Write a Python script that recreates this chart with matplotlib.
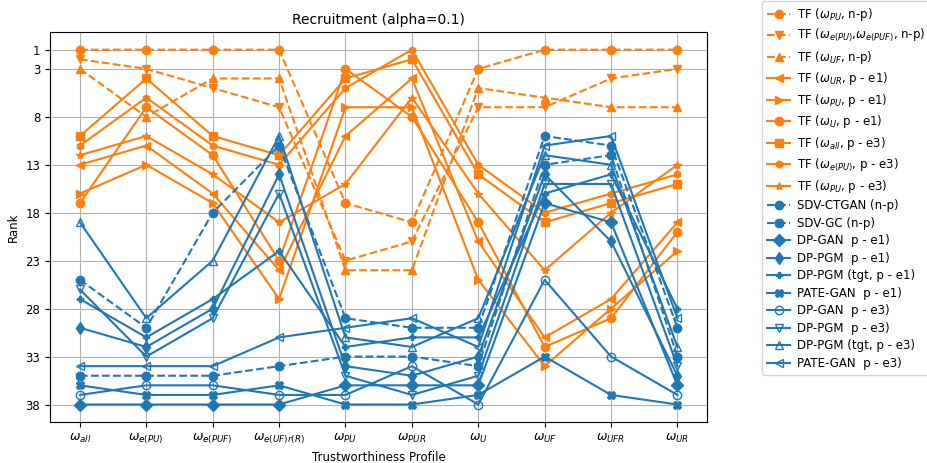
import matplotlib
matplotlib.use('Agg')
import matplotlib.pyplot as plt
import numpy as np

plt.rcParams['font.size'] = 8.5

# trustworthiness profiles on the x axis
profiles = [r'$\omega_{all}$', r'$\omega_{e(PU)}$', r'$\omega_{e(PUF)}$', r'$\omega_{e(UF)r(R)}$',
            r'$\omega_{PU}$', r'$\omega_{PUR}$', r'$\omega_{U}$', r'$\omega_{UF}$',
            r'$\omega_{UFR}$', r'$\omega_{UR}$']

# TF ranks
tf_pu_np = [1, 1, 1, 1, 17, 19, 3, 1, 1, 1]
tf_epu_np = [2, 3, 5, 7, 23, 21, 7, 7, 4, 3]
tf_uf_np = [3, 8, 4, 4, 24, 24, 5, 6, 7, 7]
tf_ur_e1 = [13, 11, 16, 24, 10, 4, 21, 31, 27, 19]
tf_pu_e1 = [16, 13, 17, 27, 7, 7, 25, 34, 28, 22]
tf_u_e1 = [17, 7, 12, 23, 3, 8, 19, 32, 29, 20]
tf_all_e3 = [10, 4, 10, 12, 4, 2, 14, 19, 17, 15]
tf_epu_e3 = [11, 6, 11, 13, 5, 1, 13, 18, 16, 14]
tf_pu_e3 = [12, 10, 14, 19, 15, 6, 16, 24, 18, 13]

# baseline generator ranks
sdv_ctgan = [25, 30, 18, 11, 29, 30, 30, 10, 11, 30]
sdv_gc = [35, 35, 35, 34, 33, 33, 34, 13, 12, 33]
dpgan_e1 = [38, 38, 38, 38, 36, 36, 36, 17, 19, 36]
dppgm_e1 = [30, 32, 28, 14, 34, 35, 33, 14, 21, 35]
dppgm_tgt_e1 = [27, 31, 27, 22, 32, 31, 31, 16, 14, 28]
pategan_e1 = [36, 37, 37, 36, 38, 38, 37, 33, 37, 38]
dpgan_e3 = [37, 36, 36, 37, 37, 34, 38, 25, 33, 37]
dppgm_e3 = [26, 33, 29, 16, 35, 37, 35, 15, 15, 34]
dppgm_tgt_e3 = [19, 29, 23, 10, 31, 32, 29, 12, 13, 32]
pategan_e3 = [34, 34, 34, 31, 30, 29, 32, 11, 10, 29]

orange = '#ff7f0e'
blue = '#1f77b4'
x = np.arange(len(profiles))

fig = plt.figure(figsize=(9.27, 4.63), dpi=100)
ax = fig.add_axes([0.054, 0.088, 0.709, 0.843])

# (values, label, color, linestyle, marker, hollow, markersize)
series = [
    (tf_pu_np, r'TF ($\omega_{PU}$, n-p)', orange, '--', 'o', False, 6),
    (tf_epu_np, r'TF ($\omega_{e(PU)}$,$\omega_{e(PUF)}$, n-p)', orange, '--', 'v', False, 6),
    (tf_uf_np, r'TF ($\omega_{UF}$, n-p)', orange, '--', '^', False, 6),
    (tf_ur_e1, r'TF ($\omega_{UR}$, p - e1)', orange, '-', '<', False, 6),
    (tf_pu_e1, r'TF ($\omega_{PU}$, p - e1)', orange, '-', '>', False, 6),
    (tf_u_e1, r'TF ($\omega_{U}$, p - e1)', orange, '-', 'o', False, 6),
    (tf_all_e3, r'TF ($\omega_{all}$, p - e3)', orange, '-', 's', False, 6),
    (tf_epu_e3, r'TF ($\omega_{e(PU)}$, p - e3)', orange, '-', 'h', False, 5),
    (tf_pu_e3, r'TF ($\omega_{PU}$, p - e3)', orange, '-', '*', False, 6),
    (sdv_ctgan, 'SDV-CTGAN (n-p)', blue, '--', 'o', False, 6),
    (sdv_gc, 'SDV-GC (n-p)', blue, '--', '8', False, 6),
    (dpgan_e1, 'DP-GAN  p - e1)', blue, '-', 'D', False, 6),
    (dppgm_e1, 'DP-PGM  p - e1)', blue, '-', 'd', False, 6),
    (dppgm_tgt_e1, 'DP-PGM (tgt, p - e1)', blue, '-', 'P', False, 5),
    (pategan_e1, 'PATE-GAN  p - e1)', blue, '-', 'X', False, 6),
    (dpgan_e3, 'DP-GAN  p - e3)', blue, '-', 'o', True, 6),
    (dppgm_e3, 'DP-PGM  p - e3)', blue, '-', 'v', True, 6),
    (dppgm_tgt_e3, 'DP-PGM (tgt, p - e3)', blue, '-', '^', True, 6),
    (pategan_e3, 'PATE-GAN  p - e3)', blue, '-', '<', True, 6),
]

for vals, label, c, ls, m, hollow, ms in series:
    ax.plot(x, vals, color=c, linestyle=ls, marker=m, markersize=ms, linewidth=1.5,
            markerfacecolor='none' if hollow else c, markeredgecolor=c, label=label)

ax.invert_yaxis()
ax.set_yticks([1, 3, 8, 13, 18, 23, 28, 33, 38])
ax.set_xticks(x)
ax.set_xticklabels(profiles, fontsize=9)
ax.grid(True, color='#b0b0b0', linewidth=0.8)
ax.set_title('Recruitment (alpha=0.1)', fontsize=10)
ax.set_xlabel('Trustworthiness Profile', labelpad=3)
ax.set_ylabel('Rank')

# legend sits outside the axes, top right of the figure
ax.legend(loc='upper left', bbox_to_anchor=(762 / 927, 462 / 463), bbox_transform=fig.transFigure,
          borderaxespad=0, fontsize=8.5, labelspacing=0.38, handletextpad=0.6)

fig.savefig('out.png', dpi=100)
